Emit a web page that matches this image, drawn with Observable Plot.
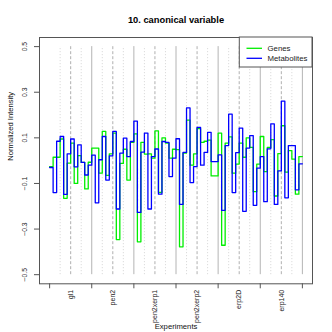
<!DOCTYPE html>
<html>
<head>
<meta charset="utf-8">
<script src="https://cdn.jsdelivr.net/npm/d3@7"></script>
<script src="https://cdn.jsdelivr.net/npm/@observablehq/plot@0.6"></script>
<style>
  html, body { margin: 0; padding: 0; background: #fff; }
  #chart { width: 332px; height: 332px; }
</style>
</head>
<body>
<div id="chart"></div>
<script>
// ---- data ----
const groups = ["gl1", "pen2", "pen2xerp1", "pen2xerp2", "erp2D", "erp140"];
const samplesPerGroup = 12;
const samplesPerSubgroup = 3;
const seriesNames = ["Genes", "Metabolites"];
const seriesColors = ["#00ee00", "#0000ff"];
const yTicks = [-0.5, -0.3, -0.1, 0.1, 0.3, 0.5];
const yExtent = [-0.5, 0.5];

const genes = [
  -0.026, 0.015, 0.015, 0.095, -0.165, -0.011, 0.077, -0.100, 0.022, -0.008, -0.124, -0.007,
   0.055, 0.055, -0.055, 0.128, -0.065, 0.030, 0.121, -0.346, -0.012, 0.050, -0.085, 0.080,
   0.117, -0.356, 0.080, 0.029, 0.030, 0.011, 0.131, -0.139, 0.100, 0.077, 0.011, 0.050,
   0.048, -0.378, 0.033, 0.178, -0.020, 0.030, 0.140, 0.080, 0.085, 0.090, -0.067, -0.067,
   0.121, -0.371, 0.077, 0.104, -0.055, -0.015, 0.077, 0.015, 0.100, 0.058, -0.136, -0.015,
   0.106, -0.048, 0.058, 0.092, -0.155, 0.031, 0.153, -0.050, 0.044, 0.007, -0.147, 0.018
];
const metabolites = [
  -0.030, -0.140, 0.085, 0.106, -0.148, 0.030, 0.095, -0.027, 0.069, -0.008, -0.063, -0.020,
   0.024, -0.185, 0.004, 0.106, -0.085, 0.021, 0.128, -0.212, 0.033, 0.099, 0.018, 0.084,
   0.173, -0.227, 0.037, 0.121, -0.212, 0.018, 0.051, -0.147, 0.084, 0.080, -0.070, 0.011,
   0.096, -0.192, 0.036, 0.231, -0.096, -0.026, 0.146, -0.020, 0.036, 0.124, -0.004, -0.004,
   0.025, -0.218, 0.066, 0.204, -0.140, 0.035, 0.143, -0.222, 0.055, 0.110, -0.196, -0.033,
   0.018, -0.180, 0.052, 0.161, -0.192, -0.045, 0.261, -0.163, 0.066, 0.066, -0.128, -0.014
];

// ---- derived ----
const n = genes.length;
const stepPoints = (vals, s) =>
  vals.map((v, i) => ({x: i, y: v, s})).concat([{x: vals.length, y: vals[vals.length - 1], s}]);
const genePts = stepPoints(genes, seriesNames[0]);
const metPts = stepPoints(metabolites, seriesNames[1]);

const solidX = groups.map((g, i) => (i + 1) * samplesPerGroup);
const boundaries = [0].concat(solidX);
const dashedX = groups.map((g, i) => i * samplesPerGroup + samplesPerGroup / 2);
const dottedX = [];
for (let k = samplesPerSubgroup; k < n; k += samplesPerSubgroup) {
  if (k % (samplesPerGroup / 2) !== 0) dottedX.push(k);
}
const groupCenters = groups.map((g, i) => ({g, x: i * samplesPerGroup + samplesPerGroup / 2}));

const font = "'Liberation Sans', Arial, Helvetica, sans-serif";
const fmt = d => (d < 0 ? "\u2212" : "") + Math.abs(d).toFixed(1);

const plot = Plot.plot({
  width: 332,
  height: 332,
  marginLeft: 39,
  marginRight: 20,
  marginTop: 37,
  marginBottom: 48.7,
  x: {domain: [-0.04 * n, n * 1.04], axis: null},
  y: {domain: [-0.54, 0.54], axis: null},
  style: {fontFamily: font, background: "white", color: "black", overflow: "visible"},
  marks: [
    Plot.ruleX(dottedX, {x: d => d, y1: yExtent[0], y2: yExtent[1], stroke: "#d4d4d4", strokeDasharray: "1,2"}),
    Plot.ruleX(dashedX, {x: d => d, y1: yExtent[0], y2: yExtent[1], stroke: "#b0b0b0", strokeDasharray: "3,2"}),
    Plot.ruleX(solidX, {x: d => d, y1: yExtent[0], y2: yExtent[1], stroke: "#b4b4b4"}),
    Plot.line(genePts, {x: "x", y: "y", curve: "step-after", stroke: seriesColors[0], strokeWidth: 1.3}),
    Plot.line(metPts, {x: "x", y: "y", curve: "step-after", stroke: seriesColors[1], strokeWidth: 1.3}),
    Plot.frame({stroke: "#555"}),
    Plot.axisX({ticks: boundaries, tickSize: 5, tickFormat: () => "", label: null, stroke: "#555"}),
    Plot.axisY({ticks: yTicks, tickSize: 5, tickFormat: () => "", label: null, stroke: "#555"}),
    Plot.text(yTicks, {y: d => d, frameAnchor: "left", dx: -15, rotate: -90, text: fmt,
      textAnchor: "middle", lineAnchor: "middle", fontSize: 6.8, fill: "#222"}),
    Plot.text(groupCenters, {x: "x", text: "g", frameAnchor: "bottom", dy: 6, rotate: -90,
      textAnchor: "end", lineAnchor: "middle", fontSize: 7, fill: "#222"}),
    Plot.text(["Normalized Intensity"], {frameAnchor: "left", dx: -29, rotate: -90,
      lineAnchor: "middle", fontSize: 7.6, fill: "#111"}),
    Plot.text(["Experiments"], {frameAnchor: "bottom", dy: 43, lineAnchor: "middle",
      fontSize: 7.7, fill: "#111"}),
    Plot.text(["10. canonical variable"], {frameAnchor: "top", dy: -17, lineAnchor: "middle",
      fontSize: 9.3, fontWeight: "bold", fill: "#000"})
  ]
});
document.getElementById("chart").appendChild(plot);

// ---- legend (inside top-right of the frame) ----
const svg = d3.select(plot);
const lg = svg.append("g").attr("font-family", font).attr("font-size", 7.8).attr("text-anchor", "start");
lg.append("rect").attr("x", 239.3).attr("y", 37).attr("width", 72.7).attr("height", 30)
  .attr("fill", "white").attr("stroke", "#555");
seriesNames.forEach((name, i) => {
  const yy = 48.3 + i * 10;
  lg.append("line").attr("x1", 246.5).attr("x2", 262).attr("y1", yy).attr("y2", yy)
    .attr("stroke", seriesColors[i]).attr("stroke-width", 1.3);
  lg.append("text").attr("x", 267.5).attr("y", yy).attr("dy", "0.35em")
    .attr("text-anchor", "start").attr("fill", "#222").text(name);
});
</script>
</body>
</html>
